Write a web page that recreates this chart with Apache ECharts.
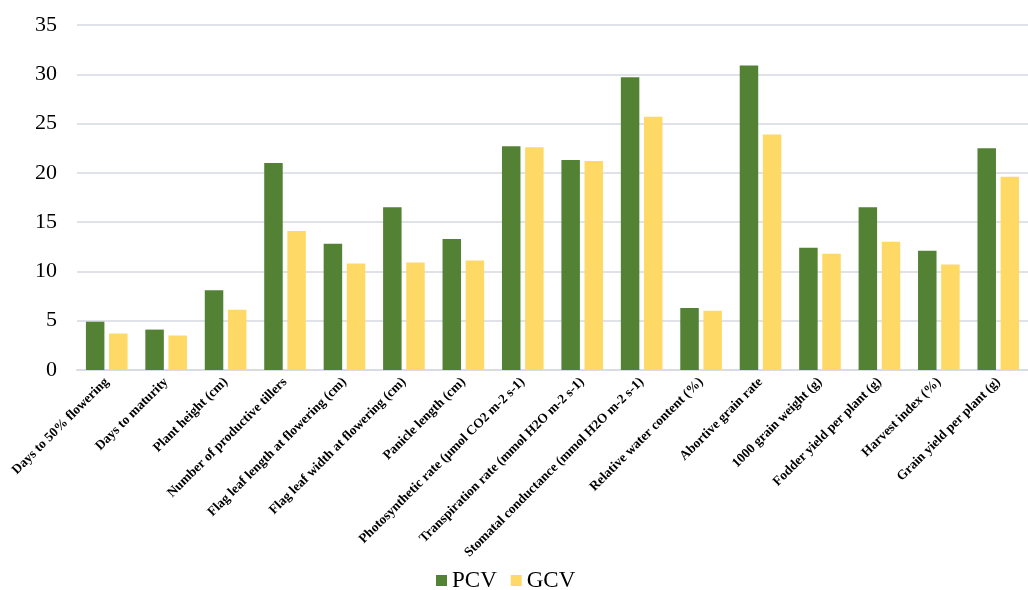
<!DOCTYPE html>
<html>
<head>
<meta charset="utf-8">
<script src="https://cdn.jsdelivr.net/npm/echarts@6/dist/echarts.min.js"></script>
<style>
    html, body { margin: 0; padding: 0; background: #fff; }
    #chart { width: 1028px; height: 590px; }
</style>
</head>
<body>
<div id="chart"></div>
<script>
var categories = [
    'Days to 50% flowering',
    'Days to maturity',
    'Plant height (cm)',
    'Number of productive tillers',
    'Flag leaf length at flowering (cm)',
    'Flag leaf width at flowering (cm)',
    'Panicle length (cm)',
    'Photosynthetic rate (µmol CO2 m-2 s-1)',
    'Transpiration rate (mmol H2O m-2 s-1)',
    'Stomatal conductance (mmol H2O m-2 s-1)',
    'Relative water content (%)',
    'Abortive grain rate',
    '1000 grain weight (g)',
    'Fodder yield per plant (g)',
    'Harvest index (%)',
    'Grain yield per plant (g)'
]
var pcv = [4.9, 4.1, 8.1, 21.0, 12.8, 16.5, 13.3, 22.7, 21.3, 29.7, 6.3, 30.9, 12.4, 16.5, 12.1, 22.5]
var gcv = [3.7, 3.5, 6.1, 14.1, 10.8, 10.9, 11.1, 22.6, 21.2, 25.7, 6.0, 23.9, 11.8, 13.0, 10.7, 19.6]
var yTicks = { min: 0, max: 35, interval: 5 }

var font = '"Liberation Serif", "Times New Roman", serif'
var dom = echarts.init(document.getElementById('chart'))

var options = {
    animation: false,
    textStyle: { fontFamily: font },
    grid: {
        left: 77,
        right: -9,
        top: 25,
        bottom: 220
    },
    legend: {
        top: 569,
        left: 436,
        padding: 0,
        itemWidth: 11,
        itemHeight: 11,
        itemGap: 14,
        icon: 'rect',
        textStyle: { fontFamily: font, fontSize: 23, color: '#000' },
        data: ['PCV', 'GCV']
    },
    xAxis: {
        type: 'category',
        data: categories,
        axisLine: { lineStyle: { color: '#d9dde3', width: 2 } },
        axisTick: { show: false },
        axisLabel: {
            rotate: 45,
            interval: 0,
            margin: 10,
            fontFamily: font,
            fontWeight: 'bold',
            fontSize: 13.4,
            color: '#000'
        }
    },
    yAxis: {
        type: 'value',
        min: yTicks.min,
        max: yTicks.max,
        interval: yTicks.interval,
        axisLine: { show: false },
        axisTick: { show: false },
        axisLabel: {
            margin: 20,
            fontFamily: font,
            fontSize: 22,
            color: '#000'
        },
        splitLine: { lineStyle: { color: '#dfe2e8', width: 2 } }
    },
    series: [
        {
            name: 'PCV',
            type: 'bar',
            data: pcv,
            barWidth: 18.5,
            barGap: '25%',
            itemStyle: { color: '#548235' }
        },
        {
            name: 'GCV',
            type: 'bar',
            data: gcv,
            barWidth: 18.5,
            itemStyle: { color: '#ffd966' }
        }
    ]
}
dom.setOption(options)
</script>
</body>
</html>
